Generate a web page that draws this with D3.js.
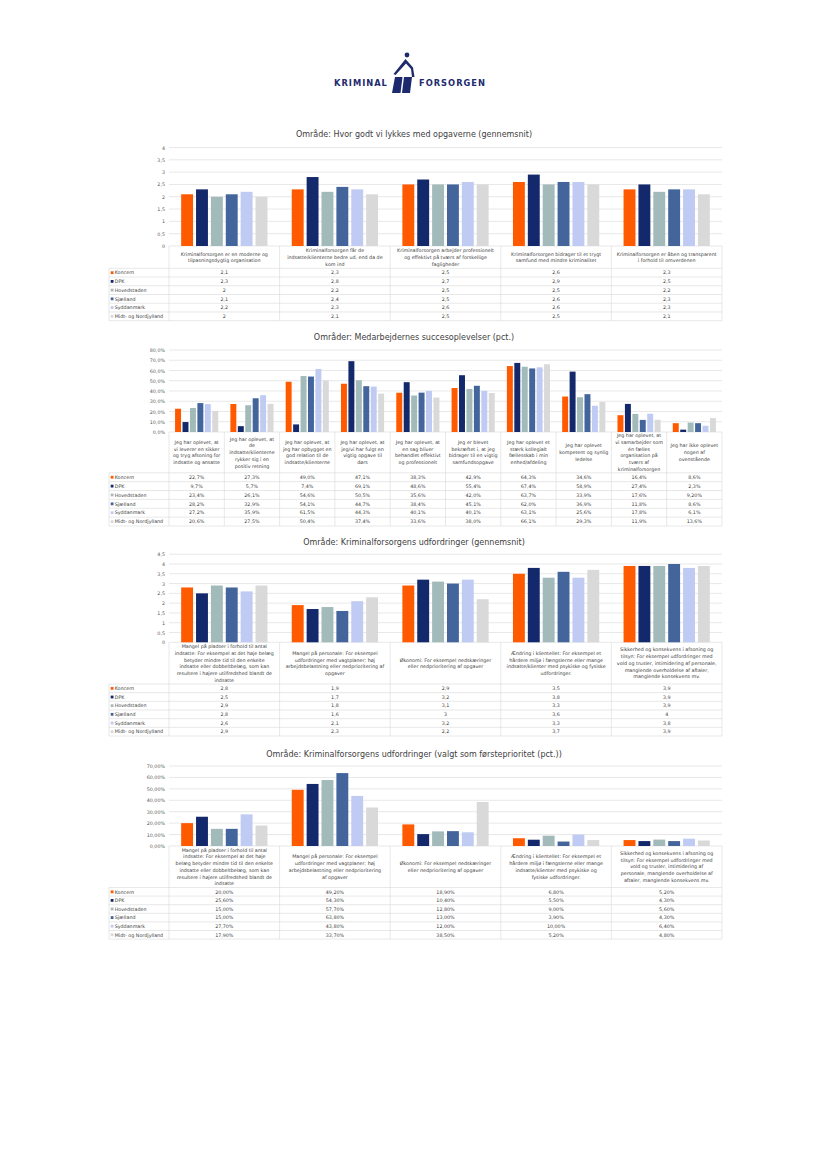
<!DOCTYPE html>
<head>
<meta charset="UTF-8">
<script src="https://cdn.jsdelivr.net/npm/d3@7"></script>
<style>
body { margin: 0; background: #fff; }
svg { display: block; }
text { font-family: "DejaVu Sans", Verdana, sans-serif; }
.grid line { stroke: #d9d9d9; stroke-width: .6px; }
.axis text { fill: #595959; font-size: 4.8px; }
.title { fill: #404040; font-size: 8px; }
.cell { fill: #404040; font-size: 4.8px; }
.border { stroke: #d9d9d9; stroke-width: .6px; fill: none; }
</style>
</head>
<body>
<script>

var width = 827, height = 1169;

var series = ["Koncern", "DPK", "Hovedstaden", "Sjælland", "Syddanmark", "Midt- og Nordjylland"];
var colors = ["#ff5a00", "#14296b", "#a2bab9", "#44659c", "#bfcbf3", "#d9d9d9"];

// chart 1
var cats1 = [
  ["Kriminalforsorgen er en moderne og", "tilpasningsdygtig organisation"],
  ["Kriminalforsorgen får de", "indsatte/klienterne bedre ud, end da de", "kom ind"],
  ["Kriminalforsorgen arbejder professionelt", "og effektivt på tværs af forskellige", "fagligheder"],
  ["Kriminalforsorgen bidrager til et trygt", "samfund med mindre kriminalitet"],
  ["Kriminalforsorgen er åben og transparent", "i forhold til omverdenen"]
];
var koncern1     = [2.1, 2.3, 2.5, 2.6, 2.3];
var dpk1         = [2.3, 2.8, 2.7, 2.9, 2.5];
var hovedstaden1 = [2, 2.2, 2.5, 2.5, 2.2];
var sjaelland1   = [2.1, 2.4, 2.5, 2.6, 2.3];
var syddanmark1  = [2.2, 2.3, 2.6, 2.6, 2.3];
var midt1        = [2, 2.1, 2.5, 2.5, 2.1];
var ticks1 = [0, 0.5, 1, 1.5, 2, 2.5, 3, 3.5, 4];

// chart 2
var cats2 = [
  ["Jeg har oplevet, at", "vi leverer en sikker", "og tryg afsoning for", "indsatte og ansatte"],
  ["Jeg har oplevet, at", "de", "indsatte/klienterne", "rykker sig i en", "positiv retning"],
  ["Jeg har oplevet, at", "jeg har opbygget en", "god relation til de", "indsatte/klienterne"],
  ["Jeg har oplevet, at", "jeg/vi har fulgt en", "vigtig opgave til", "dørs"],
  ["Jeg har oplevet, at", "en sag bliver", "behandlet effektivt", "og professionelt"],
  ["Jeg er blevet", "bekræftet i, at jeg", "bidrager til en vigtig", "samfundsopgave"],
  ["Jeg har oplevet et", "stærk kollegialt", "fællesskab i min", "enhed/afdeling"],
  ["Jeg har oplevet", "kompetent og synlig", "ledelse"],
  ["Jeg har oplevet, at", "vi samarbejder som", "én fælles", "organisation på", "tværs af", "kriminalforsorgen"],
  ["Jeg har ikke oplevet", "nogen af", "ovenstående"]
];
var koncern2     = [22.7, 27.3, 49.0, 47.1, 38.3, 42.9, 64.3, 34.6, 16.4, 8.6];
var dpk2         = [9.7, 5.7, 7.4, 69.1, 48.6, 55.4, 67.4, 58.9, 27.4, 2.3];
var hovedstaden2 = [23.4, 26.1, 54.6, 50.5, 35.6, 42.0, 63.7, 33.9, 17.6, 9.2];
var sjaelland2   = [28.2, 32.9, 54.1, 44.7, 38.4, 45.1, 62.0, 36.9, 11.8, 8.6];
var syddanmark2  = [27.2, 35.9, 61.5, 44.3, 40.1, 40.1, 63.1, 25.6, 17.8, 6.1];
var midt2        = [20.6, 27.5, 50.4, 37.4, 33.6, 38.0, 66.1, 29.3, 11.9, 13.6];
var ticks2 = [0, 10, 20, 30, 40, 50, 60, 70, 80];

// chart 3
var cats3 = [
  ["Mangel på pladser i forhold til antal", "indsatte: For eksempel at det høje belæg", "betyder mindre tid til den enkelte", "indsatte eller dobbeltbelæg, som kan", "resultere i højere utilfredshed blandt de", "indsatte"],
  ["Mangel på personale: For eksempel", "udfordringer med vagtplaner; høj", "arbejdsbelastning eller nedprioritering af", "opgaver"],
  ["Økonomi: For eksempel nedskæringer", "eller nedprioritering af opgaver"],
  ["Ændring i klientellet: For eksempel et", "hårdere miljø i fængslerne eller mange", "indsatte/klienter med psykiske og fysiske", "udfordringer."],
  ["Sikkerhed og konsekvens i afsoning og", "tilsyn: For eksempel udfordringer med", "vold og trusler, intimidering af personale,", "manglende overholdelse af aftaler,", "manglende konsekvens mv."]
];
var koncern3     = [2.8, 1.9, 2.9, 3.5, 3.9];
var dpk3         = [2.5, 1.7, 3.2, 3.8, 3.9];
var hovedstaden3 = [2.9, 1.8, 3.1, 3.3, 3.9];
var sjaelland3   = [2.8, 1.6, 3, 3.6, 4];
var syddanmark3  = [2.6, 2.1, 3.2, 3.3, 3.8];
var midt3        = [2.9, 2.3, 2.2, 3.7, 3.9];
var ticks3 = [0, 0.5, 1, 1.5, 2, 2.5, 3, 3.5, 4, 4.5];

// chart 4
var cats4 = [
  ["Mangel på pladser i forhold til antal", "indsatte: For eksempel at det høje", "belæg betyder mindre tid til den enkelte", "indsatte eller dobbeltbelæg, som kan", "resultere i højere utilfredshed blandt de", "indsatte"],
  ["Mangel på personale: For eksempel", "udfordringer med vagtplaner; høj", "arbejdsbelastning eller nedprioritering", "af opgaver"],
  ["Økonomi: For eksempel nedskæringer", "eller nedprioritering af opgaver"],
  ["Ændring i klientellet: For eksempel et", "hårdere miljø i fængslerne eller mange", "indsatte/klienter med psykiske og", "fysiske udfordringer."],
  ["Sikkerhed og konsekvens i afsoning og", "tilsyn: For eksempel udfordringer med", "vold og trusler, intimidering af", "personale, manglende overholdelse af", "aftaler, manglende konsekvens mv."]
];
var koncern4     = [20.0, 49.2, 18.9, 6.8, 5.2];
var dpk4         = [25.6, 54.3, 10.4, 5.5, 4.3];
var hovedstaden4 = [15.0, 57.7, 12.8, 9.0, 5.6];
var sjaelland4   = [15.0, 63.8, 13.0, 3.9, 4.3];
var syddanmark4  = [27.7, 43.8, 12.0, 10.0, 6.4];
var midt4        = [17.9, 33.7, 38.5, 5.2, 4.8];
var ticks4 = [0, 10, 20, 30, 40, 50, 60, 70];

function comma(s) { return String(s).replace(".", ","); }
var plain = function(v) { return comma(v); };
var pct1 = function(v) { return comma(v.toFixed(1)) + "%"; };
var pct2 = function(v) { return comma(v.toFixed(2)) + "%"; };

var svg = d3.select("body").append("svg")
    .attr("width", width)
    .attr("height", height);

// logo
var logo = svg.append("g").attr("fill", "#1d2b6e");
logo.append("text").attr("x", 334).attr("y", 85.5)
    .attr("font-size", 8.3).attr("font-weight", "bold").attr("letter-spacing", 1).text("KRIMINAL");
logo.append("text").attr("x", 419).attr("y", 85.5)
    .attr("font-size", 8.3).attr("font-weight", "bold").attr("letter-spacing", 1).text("FORSORGEN");
logo.append("circle").attr("cx", 407).attr("cy", 55).attr("r", 2.4);
logo.append("path")
    .attr("d", "M405.5,59 L393.5,74 L395.5,75 L406,63.5 L411,69 L412,77 L414.5,77 L413,67.5 Z");
logo.append("path").attr("d", "M395,77 L402.5,77 L400.5,93 L392,93 Z");
logo.append("path").attr("d", "M404,77 L412,77 L410,93 L402,93 Z");

var left = 169, right = 722, legendX = 109;

function drawChart(cfg) {
  var g = svg.append("g");
  var data = cfg.values;

  g.append("text").attr("class", "title")
      .attr("x", 414).attr("y", cfg.titleY)
      .attr("text-anchor", "middle")
      .text(cfg.title);

  var y = d3.scaleLinear()
      .domain([0, cfg.ticks[cfg.ticks.length - 1]])
      .range([cfg.bottom, cfg.top]);

  var x0 = d3.scaleBand()
      .domain(d3.range(cfg.cats.length))
      .range([left, right]);
  var bw = x0.bandwidth();
  var x1 = d3.scaleBand()
      .domain(d3.range(series.length))
      .range([bw * 0.11, bw * 0.89])
      .paddingInner(0.2);

  g.append("g").attr("class", "grid")
    .selectAll("line").data(cfg.ticks).join("line")
      .attr("x1", left).attr("x2", right)
      .attr("y1", d => y(d)).attr("y2", d => y(d));

  var axis = g.append("g").attr("class", "axis")
      .attr("transform", "translate(" + left + ",0)")
      .call(d3.axisLeft(y).tickValues(cfg.ticks).tickSize(0).tickPadding(4).tickFormat(cfg.tickFmt));
  axis.select(".domain").remove();

  var groups = g.selectAll(".cat").data(cfg.cats).join("g")
      .attr("transform", (d, i) => "translate(" + x0(i) + ",0)");
  groups.selectAll("rect")
      .data((d, i) => data.map((s, j) => ({ j: j, v: s[i] })))
      .join("rect")
      .attr("x", d => x1(d.j))
      .attr("width", x1.bandwidth())
      .attr("y", d => y(d.v))
      .attr("height", d => cfg.bottom - y(d.v))
      .attr("fill", d => colors[d.j]);

  // table
  var tableTop = cfg.headerBottom;
  var tableBottom = tableTop + cfg.rowH * series.length;
  var lh = 6.7;
  groups.each(function(lines, i) {
    var cy = (cfg.bottom + cfg.headerBottom) / 2;
    var t = d3.select(this).append("text").attr("class", "cell")
        .attr("text-anchor", "middle");
    t.selectAll("tspan").data(lines).join("tspan")
        .attr("x", bw / 2)
        .attr("y", (d, k) => cy + (k - (lines.length - 1) / 2) * lh + 1.7)
        .text(d => d);
  });

  var rows = d3.range(series.length + 1);
  g.selectAll(".hline").data(rows).join("line").attr("class", "border")
      .attr("x1", legendX).attr("x2", right)
      .attr("y1", r => tableTop + r * cfg.rowH).attr("y2", r => tableTop + r * cfg.rowH);
  g.selectAll(".vline").data(d3.range(cfg.cats.length + 1)).join("line").attr("class", "border")
      .attr("x1", i => left + i * bw).attr("x2", i => left + i * bw)
      .attr("y1", cfg.bottom).attr("y2", tableBottom);
  g.append("line").attr("class", "border")
      .attr("x1", legendX).attr("x2", legendX)
      .attr("y1", tableTop).attr("y2", tableBottom);

  series.forEach(function(name, j) {
    var cy = tableTop + (j + 0.5) * cfg.rowH;
    g.append("rect").attr("x", legendX + 1.7).attr("y", cy - 1.4)
        .attr("width", 2.8).attr("height", 2.8).attr("fill", colors[j]);
    g.append("text").attr("class", "cell")
        .attr("x", legendX + 5.7).attr("y", cy + 1.7).text(name);
    cfg.cats.forEach(function(c, i) {
      var label = (cfg.override && cfg.override[j + "-" + i]) || cfg.cellFmt(data[j][i]);
      g.append("text").attr("class", "cell")
          .attr("x", x0(i) + bw / 2).attr("y", cy + 1.7)
          .attr("text-anchor", "middle").text(label);
    });
  });
}

drawChart({
  title: "Område: Hvor godt vi lykkes med opgaverne (gennemsnit)",
  titleY: 137, top: 147.5, bottom: 246, headerBottom: 268.3, rowH: 8.73,
  cats: cats1, values: [koncern1, dpk1, hovedstaden1, sjaelland1, syddanmark1, midt1],
  ticks: ticks1, tickFmt: plain, cellFmt: plain
});

drawChart({
  title: "Områder: Medarbejdernes succesoplevelser (pct.)",
  titleY: 340, top: 350, bottom: 432, headerBottom: 472.8, rowH: 8.87,
  cats: cats2, values: [koncern2, dpk2, hovedstaden2, sjaelland2, syddanmark2, midt2],
  ticks: ticks2, tickFmt: pct1, cellFmt: pct1,
  override: { "2-9": "9,20%" }
});

drawChart({
  title: "Område: Kriminalforsorgens udfordringer (gennemsnit)",
  titleY: 544.5, top: 554.2, bottom: 642.3, headerBottom: 684, rowH: 8.67,
  cats: cats3, values: [koncern3, dpk3, hovedstaden3, sjaelland3, syddanmark3, midt3],
  ticks: ticks3, tickFmt: plain, cellFmt: plain
});

drawChart({
  title: "Område: Kriminalforsorgens udfordringer (valgt som førsteprioritet (pct.))",
  titleY: 757, top: 766, bottom: 846, headerBottom: 887.5, rowH: 8.6,
  cats: cats4, values: [koncern4, dpk4, hovedstaden4, sjaelland4, syddanmark4, midt4],
  ticks: ticks4, tickFmt: pct2, cellFmt: pct2
});

</script>
</body>
